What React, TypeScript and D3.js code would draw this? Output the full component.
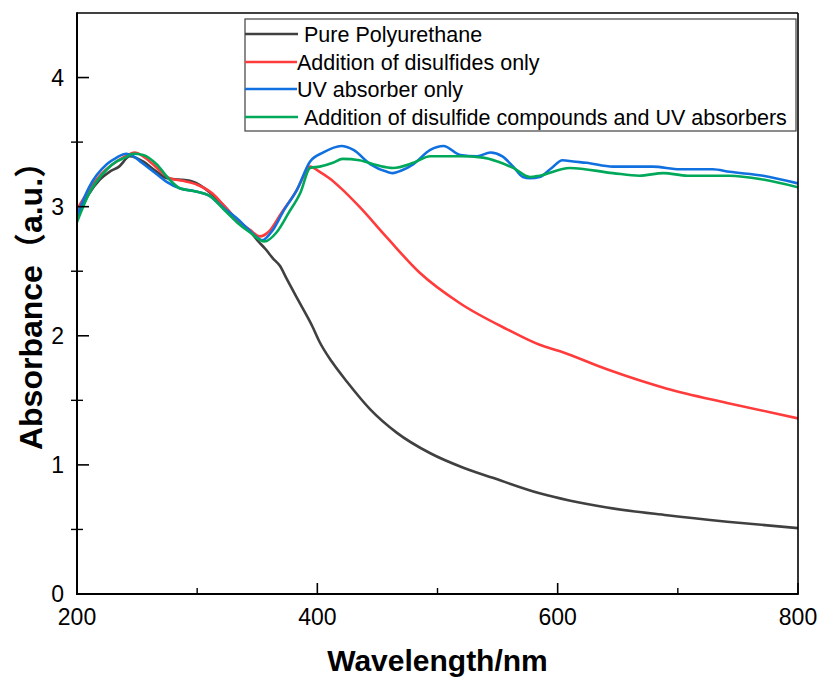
import React from "react";
import * as d3 from "d3";

const seriesNames = [
  "Pure Polyurethane",
  "Addition of disulfides only",
  "UV absorber only",
  "Addition of disulfide compounds and UV absorbers",
];
const seriesColors = ["#404040", "#ff3b3b", "#1070e0", "#00a85a"];

const pureX = [200, 210, 219, 227, 235, 244, 255, 265, 275, 285, 294, 305, 313, 323, 333, 344, 350, 357, 363, 369, 374, 385, 396, 402, 412, 425, 444, 466, 494, 521, 546, 585, 641, 691, 741, 800];
const pureY = [2.92, 3.1, 3.21, 3.27, 3.31, 3.39, 3.35, 3.28, 3.22, 3.21, 3.2, 3.15, 3.09, 3.0, 2.9, 2.81, 2.74, 2.67, 2.6, 2.54, 2.45, 2.26, 2.07, 1.95, 1.8, 1.64, 1.43, 1.25, 1.09, 0.98, 0.9, 0.78, 0.67, 0.61, 0.56, 0.51];

const disX = [200, 210, 220, 230, 240, 248, 255, 263, 270, 277, 288, 300, 313, 323, 333, 344, 352, 360, 370, 383, 390, 394, 402, 410, 420, 435, 458, 485, 519, 558, 585, 602, 641, 691, 741, 800];
const disY = [2.98, 3.13, 3.25, 3.33, 3.39, 3.42, 3.39, 3.33, 3.27, 3.22, 3.2, 3.17, 3.1, 3.0, 2.9, 2.82, 2.77, 2.81, 2.95, 3.13, 3.26, 3.31, 3.27, 3.22, 3.14, 3.0, 2.76, 2.49, 2.25, 2.05, 1.93, 1.88, 1.74, 1.59, 1.48, 1.36];

const uvX = [200, 210, 225, 233, 241, 247, 254, 261, 268, 275, 286, 298, 311, 322, 333, 342, 350, 354, 363, 372, 383, 394, 405, 420, 430, 444, 458, 463, 470, 480, 494, 505, 519, 533, 544, 554, 563, 571, 577, 585, 595, 604, 613, 624, 646, 679, 702, 716, 729, 743, 771, 800];
const uvY = [2.93, 3.15, 3.33, 3.38, 3.41, 3.39, 3.34, 3.29, 3.24, 3.19, 3.14, 3.12, 3.08, 2.99, 2.91, 2.83, 2.76, 2.74, 2.82, 2.97, 3.13, 3.35, 3.42, 3.47, 3.44, 3.33, 3.27, 3.26, 3.28, 3.33, 3.44, 3.47, 3.4, 3.39, 3.42, 3.39, 3.31, 3.23, 3.22, 3.23, 3.3, 3.36, 3.35, 3.34, 3.31, 3.31, 3.29, 3.29, 3.29, 3.27, 3.24, 3.18];

const bothX = [200, 210, 225, 233, 240, 247, 255, 266, 277, 286, 298, 311, 322, 333, 344, 356, 366, 376, 386, 394, 402, 413, 421, 435, 450, 463, 480, 494, 519, 538, 550, 563, 577, 585, 610, 646, 668, 688, 708, 743, 771, 800];
const bothY = [2.88, 3.1, 3.29, 3.35, 3.38, 3.41, 3.4, 3.33, 3.21, 3.14, 3.12, 3.08, 2.98, 2.88, 2.8, 2.73, 2.8, 2.95, 3.11, 3.3, 3.31, 3.34, 3.37, 3.36, 3.32, 3.3, 3.34, 3.39, 3.39, 3.38, 3.35, 3.3, 3.23, 3.24, 3.3, 3.26, 3.24, 3.26, 3.24, 3.24, 3.21, 3.15];

const xMajorTicks = [200, 400, 600, 800];
const xMinorTicks = [300, 500, 700];
const yMajorTicks = [0, 1, 2, 3, 4];
const yMinorTicks = [0.5, 1.5, 2.5, 3.5];

const xTitle = "Wavelength/nm";
const yTitle = "Absorbance（a.u.）";

const W = 821;
const H = 678;
const L = 77;
const R = 798;
const T = 13;
const B = 594;

export default function App() {
  const x = d3.scaleLinear().domain([200, 800]).range([L, R]);
  const y = d3.scaleLinear().domain([0, 4.5]).range([B, T]);
  const line = d3
    .line<[number, number]>()
    .x((d) => x(d[0]))
    .y((d) => y(d[1]))
    .curve(d3.curveMonotoneX);

  const series = [
    [pureX, pureY],
    [disX, disY],
    [uvX, uvY],
    [bothX, bothY],
  ].map(([xs, ys]) => xs.map((v, i) => [v, ys[i]] as [number, number]));

  const font = "Arial, 'Liberation Sans', sans-serif";
  const legendRows = [34, 62, 89, 117];
  const legendTextX = [304, 297, 297, 304];

  return (
    <svg
      width={W}
      height={H}
      style={{ position: "absolute", left: 0, top: 0, background: "#fff" }}
      fontFamily={font}
    >
      <rect x={0} y={0} width={W} height={H} fill="#fff" />
      <defs>
        <clipPath id="plot">
          <rect x={L} y={T} width={R - L} height={B - T} />
        </clipPath>
      </defs>
      <g clipPath="url(#plot)">
        {series.map((s, i) => (
          <path
            key={i}
            d={line(s) || ""}
            fill="none"
            stroke={seriesColors[i]}
            strokeWidth={2.6}
            strokeLinejoin="round"
          />
        ))}
      </g>

      {/* frame */}
      <line x1={L} x2={R} y1={T} y2={T} stroke="#000" strokeWidth={1.6} />
      <line x1={R} x2={R} y1={T} y2={B} stroke="#000" strokeWidth={1.6} />
      <line x1={L} x2={L} y1={T - 0.8} y2={B + 1} stroke="#000" strokeWidth={2} />
      <line x1={L - 1} x2={R + 0.8} y1={B} y2={B} stroke="#000" strokeWidth={2} />

      {/* x ticks */}
      {xMajorTicks.map((t) => (
        <g key={"xm" + t}>
          <line x1={x(t)} x2={x(t)} y1={B} y2={B - 11} stroke="#000" strokeWidth={1.6} />
          <text x={x(t)} y={625} fontSize={23} textAnchor="middle" fill="#000">
            {t}
          </text>
        </g>
      ))}
      {xMinorTicks.map((t) => (
        <line key={"xn" + t} x1={x(t)} x2={x(t)} y1={B} y2={B - 6} stroke="#000" strokeWidth={1.4} />
      ))}

      {/* y ticks */}
      {yMajorTicks.map((t) => (
        <g key={"ym" + t}>
          <line x1={L} x2={L + 12} y1={y(t)} y2={y(t)} stroke="#000" strokeWidth={1.6} />
          <text x={64} y={y(t) + 8} fontSize={23} textAnchor="end" fill="#000">
            {t}
          </text>
        </g>
      ))}
      {yMinorTicks.map((t) => (
        <line key={"yn" + t} x1={L - 6} x2={L + 6} y1={y(t)} y2={y(t)} stroke="#000" strokeWidth={1.4} />
      ))}

      {/* titles */}
      <text
        x={(L + R) / 2}
        y={671}
        fontSize={30}
        fontWeight="bold"
        textAnchor="middle"
        fill="#000"
      >
        {xTitle}
      </text>
      <text
        transform={`translate(42, 298) rotate(-90)`}
        fontSize={32}
        fontWeight="bold"
        textAnchor="middle"
        fill="#000"
        fontFamily={"Arial, 'Liberation Sans', 'Noto Sans CJK SC', sans-serif"}
      >
        {yTitle}
      </text>

      {/* legend */}
      <rect x={245} y={19} width={551} height={112} fill="#fff" stroke="#404040" strokeWidth={1.2} />
      {seriesNames.map((n, i) => (
        <g key={n}>
          <line
            x1={245}
            x2={i === 1 || i === 2 ? legendTextX[i] : legendTextX[i] - 6}
            y1={legendRows[i]}
            y2={legendRows[i]}
            stroke={seriesColors[i]}
            strokeWidth={2.6}
          />
          <text x={legendTextX[i]} y={legendRows[i] + 8} fontSize={21.5} fill="#000">
            {n}
          </text>
        </g>
      ))}
    </svg>
  );
}
